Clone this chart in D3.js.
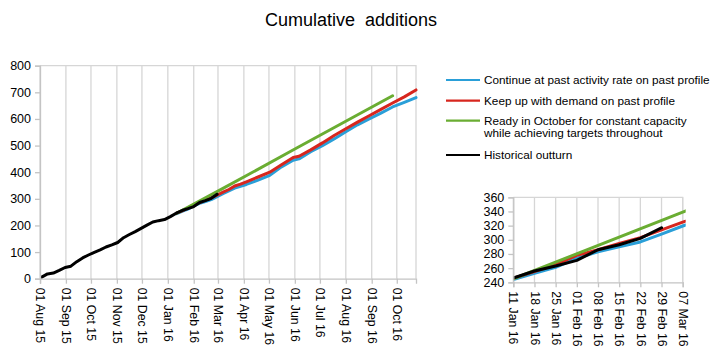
<!DOCTYPE html>
<html><head><meta charset="utf-8">
<script src="https://cdn.jsdelivr.net/npm/d3@7"></script>
<style>body{margin:0;background:#fff}svg{display:block;font-family:"Liberation Sans",Arial,sans-serif}</style>
</head><body><svg id="c" width="719" height="355"></svg>
<script>
const title = "Cumulative additions";
const seriesNames = ["Continue at past activity rate on past profile","Keep up with demand on past profile","Ready in October for constant capacity\nwhile achieving targets throughout","Historical outturn"];
const seriesColors = ["#2a9fd8","#d7261e","#6aad32","#000000"];

const histDates = ["2015-08-03","2015-08-10","2015-08-17","2015-08-24","2015-08-31","2015-09-07","2015-09-14","2015-09-21","2015-09-28","2015-10-05","2015-10-12","2015-10-19","2015-10-26","2015-11-02","2015-11-09","2015-11-16","2015-11-23","2015-11-30","2015-12-07","2015-12-14","2015-12-21","2015-12-28","2016-01-04","2016-01-11","2016-01-18","2016-01-25","2016-02-01","2016-02-08","2016-02-15","2016-02-22","2016-02-29"];
const histValues = [6,18,21,31,42,47,64,78,89,99,108,119,127,136,154,166,177,189,201,213,218,222,233,246,256,263,271,286,293,302,317];

const projDates = ["2016-01-11","2016-01-18","2016-01-25","2016-02-01","2016-02-08","2016-02-15","2016-02-22","2016-02-29","2016-03-07","2016-03-14","2016-03-21","2016-03-28","2016-04-04","2016-04-18","2016-05-02","2016-05-16","2016-05-30","2016-06-06","2016-06-20","2016-07-04","2016-07-18","2016-08-01","2016-08-15","2016-08-29","2016-09-12","2016-09-26","2016-10-10","2016-10-24"];
const pastRateValues = [244,252.7,261,274,283,290,297,308,319.5,330,340,347,354,370,388,420,445,450,477,500,525,552,578,600,622,645,662,680];
const demandValues = [245.6,255,265,278,286,295,303,314,325,335,348,355,364,382,400,428,455,460,484,510,538,563,588,612,636,660,683,709];

const greenDates = ["2016-01-11","2016-03-07","2016-06-01","2016-09-26"];
const greenValues = [245,339,487,687];

const mainYTicks = [0,100,200,300,400,500,600,700,800];
const mainXTicks = ["2015-08-01","2015-09-01","2015-10-01","2015-11-01","2015-12-01","2016-01-01","2016-02-01","2016-03-01","2016-04-01","2016-05-01","2016-06-01","2016-07-01","2016-08-01","2016-09-01","2016-10-01"];
const insetYTicks = [240,260,280,300,320,340,360];
const insetXTicks = ["2016-01-11","2016-01-18","2016-01-25","2016-02-01","2016-02-08","2016-02-15","2016-02-22","2016-02-29","2016-03-07"];

const P = d3.utcParse("%Y-%m-%d");
const fmt = d3.utcFormat("%d %b %y");
const svg = d3.select("#c");
const gridCol = "#d6d6d6", axisCol = "#c4c4c4";
const FONT = "Liberation Sans, Arial, sans-serif";

svg.append("text").attr("x",351).attr("y",26).attr("text-anchor","middle")
  .attr("font-size",18).attr("fill","#000").style("white-space","pre").text("Cumulative\u00a0 additions");

const series = [
  {dates: projDates, values: pastRateValues, color: seriesColors[0]},
  {dates: projDates, values: demandValues, color: seriesColors[1]},
  {dates: greenDates, values: greenValues, color: seriesColors[2]},
  {dates: histDates, values: histValues, color: seriesColors[3]}
];

function panel(g, box, xDomain, yDomain, xTicks, yTicks, id){
  const x = d3.scaleUtc().domain(xDomain).range([box.l, box.r]);
  const y = d3.scaleLinear().domain(yDomain).range([box.b, box.t]);
  g.append("g").selectAll("line").data(xTicks.map(P)).join("line")
    .attr("x1",d=>x(d)).attr("x2",d=>x(d)).attr("y1",box.t).attr("y2",box.b)
    .attr("stroke",gridCol).attr("stroke-width",1.3);
  g.append("path").attr("d",`M${box.l},${box.t}H${box.r}V${box.b}`).attr("fill","none").attr("stroke",gridCol).attr("stroke-width",1.3);
  g.append("clipPath").attr("id",id).append("rect").attr("x",box.l).attr("y",box.t-3).attr("width",box.r-box.l+3).attr("height",box.b-box.t+6);
  const lines = g.append("g").attr("clip-path",`url(#${id})`);
  series.forEach(s=>{
    const pts = s.dates.map((d,i)=>[P(d), s.values[i]]);
    lines.append("path").datum(pts)
      .attr("d", d3.line().x(d=>x(d[0])).y(d=>y(d[1])))
      .attr("fill","none").attr("stroke",s.color).attr("stroke-width",3)
      .attr("stroke-linejoin","round").attr("stroke-linecap","round");
  });
  const ya = g.append("g").attr("transform",`translate(${box.l},0)`)
    .call(d3.axisLeft(y).tickValues(yTicks).tickSize(5).tickPadding(4).tickFormat(d3.format("d")));
  ya.select(".domain").attr("stroke",axisCol).attr("stroke-width",1.3);
  ya.selectAll(".tick line").attr("stroke",axisCol).attr("stroke-width",1.3);
  ya.selectAll("text").attr("font-size",12.5).attr("fill","#000").attr("font-family",FONT);
  const xa = g.append("g").attr("transform",`translate(0,${box.b})`)
    .call(d3.axisBottom(x).tickValues(xTicks.map(P)).tickSize(5).tickFormat(fmt));
  xa.select(".domain").attr("stroke",axisCol).attr("stroke-width",1.3);
  xa.selectAll(".tick line").attr("stroke",axisCol).attr("stroke-width",1.3);
  xa.selectAll("text").attr("font-size",12.3).attr("fill","#000").attr("font-family",FONT)
    .attr("transform","rotate(90)").attr("text-anchor","start").attr("dy","0.35em").attr("x",9).attr("y",0);
}

panel(svg.append("g"), {l:40, r:416, t:65.7, b:278.7},
  [P("2015-08-01"), P("2016-10-24")], [0,800], mainXTicks, mainYTicks, "clipMain");
panel(svg.append("g"), {l:513.3, r:682.7, t:197.3, b:282.3},
  [P("2016-01-11"), P("2016-03-07")], [240,360], insetXTicks, insetYTicks, "clipInset");

const probe = svg.append("text").attr("font-size",12).attr("font-family",FONT).text(seriesNames[0]);
const legFont = 12 * 226 / probe.node().getComputedTextLength();
probe.remove();
const legRows = [80, 100.7, 120.7, 155];
series.forEach((s,i)=>{
  const g = svg.append("g");
  g.append("line").attr("x1",446).attr("x2",480).attr("y1",legRows[i]).attr("y2",legRows[i])
    .attr("stroke",s.color).attr("stroke-width",2.2);
  const t = g.append("text").attr("x",484).attr("y",legRows[i])
    .attr("font-size",legFont).attr("fill","#000").attr("font-family",FONT);
  seriesNames[i].split("\n").forEach((ln,j)=>{
    t.append("tspan").attr("x",484).attr("dy", j===0 ? "0.35em" : "1.05em").text(ln);
  });
});
</script></body></html>
